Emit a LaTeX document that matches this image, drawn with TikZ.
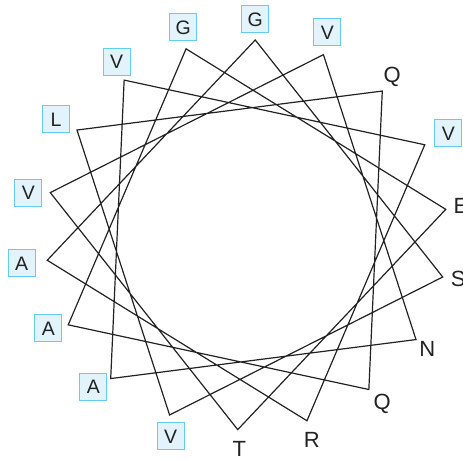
\documentclass[tikz,border=0pt]{standalone}
\usepackage{fontspec}
\setmainfont{Liberation Sans}
\usepackage{tikz}
\definecolor{hydfill}{RGB}{226,243,252}
\definecolor{hydline}{RGB}{100,204,242}
\definecolor{inkgray}{RGB}{34,34,34}

\begin{document}
\begin{tikzpicture}[
        x=1pt, y=1pt,
        wheel/.style={draw=inkgray, line width=1.2pt, line join=miter},
        hyd/.style={draw=hydline, fill=hydfill, line width=0.9pt, minimum size=27pt, inner sep=0pt,
            text=inkgray, font=\fontsize{19.5}{19.5}\selectfont, text height=14pt, text depth=0pt},
        pol/.style={inner sep=0pt, text=inkgray, font=\fontsize{22}{22}\selectfont, text height=15.8pt, text depth=0pt}
    ]
        \useasboundingbox (-246.5,-224.2) rectangle (216.5,234.8);

        % corners of the wheel
        \coordinate (w0) at (87.5:201pt and 195pt);
        \coordinate (w1) at (67.5:201pt and 195pt);
        \coordinate (w2) at (47.5:201pt and 195pt);
        \coordinate (w3) at (27.5:201pt and 195pt);
        \coordinate (w4) at (7.5:201pt and 195pt);
        \coordinate (w5) at (-12.5:201pt and 195pt);
        \coordinate (w6) at (-32.5:201pt and 195pt);
        \coordinate (w7) at (-52.5:201pt and 195pt);
        \coordinate (w8) at (-72.5:201pt and 195pt);
        \coordinate (w9) at (-92.5:201pt and 195pt);
        \coordinate (w10) at (-112.5:201pt and 195pt);
        \coordinate (w11) at (-132.5:201pt and 195pt);
        \coordinate (w12) at (-152.5:201pt and 195pt);
        \coordinate (w13) at (-172.5:201pt and 195pt);
        \coordinate (w14) at (167.5:201pt and 195pt);
        \coordinate (w15) at (147.5:201pt and 195pt);
        \coordinate (w16) at (127.5:201pt and 195pt);
        \coordinate (w17) at (107.5:201pt and 195pt);

        % residues
        \node[hyd] (r0) at (8.8,215.5) {G};
        \node[hyd] (r1) at (80.8,202.5) {V};
        \node[pol] (r2) at (145.8,159.8) {Q};
        \node[hyd] (r3) at (201.8,101.5) {V};
        \node[pol] (r4) at (214.5,29.3) {E};
        \node[pol] (r5) at (211.8,-43.5) {S};
        \node[pol] (r6) at (180.8,-113.5) {N};
        \node[pol] (r7) at (135.8,-166.9) {Q};
        \node[pol] (r8) at (65.2,-205.2) {R};
        \node[pol] (r9) at (-7.2,-213.9) {T};
        \node[hyd] (r10) at (-75.8,-201.2) {V};
        \node[hyd] (r11) at (-153.2,-151.9) {A};
        \node[hyd] (r12) at (-198.2,-93.5) {A};
        \node[hyd] (r13) at (-224.8,-28.5) {A};
        \node[hyd] (r14) at (-218.2,42.1) {V};
        \node[hyd] (r15) at (-190.5,115.5) {L};
        \node[hyd] (r16) at (-129.8,173.1) {V};
        \node[hyd] (r17) at (-63.2,207.5) {G};

        \draw[wheel] (w0) -- (w5) -- (w10) -- (w15) -- (w2) -- (w7) -- (w12) -- (w17) -- (w4)
            -- (w9) -- (w14) -- (w1) -- (w6) -- (w11) -- (w16) -- (w3) -- (w8) -- (w13) -- cycle;
    \end{tikzpicture}
\end{document}
